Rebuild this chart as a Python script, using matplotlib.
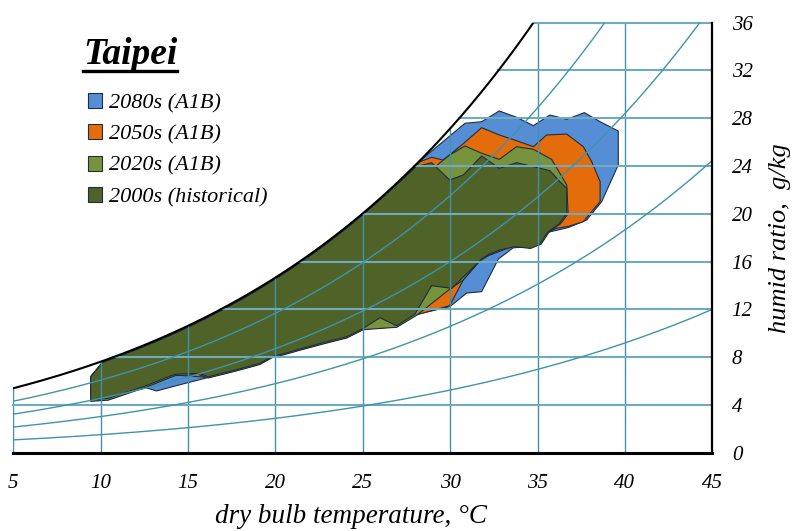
"""Taipei psychrometric chart: climate envelopes per decade."""
import numpy as np
import matplotlib.pyplot as plt
from matplotlib.patches import Polygon, Patch
from matplotlib.lines import Line2D

plt.rcParams['font.family'] = ['Liberation Serif', 'DejaVu Serif']

# --- data (dry bulb degC, humid ratio g/kg) ---
# left edge + upper edge running just under the saturation curve (shared by all decades)
edge_T = [9.43, 9.43, 10.1, 11, 12, 13, 14, 15, 16, 17, 18, 19, 20, 21, 22, 23, 24, 25, 26, 27, 28.05]
edge_w = [4.6, 6.36, 7.55, 8.03, 8.6, 9.2, 9.83, 10.5, 11.22, 11.98, 12.78, 13.63, 14.54, 15.49,
          16.5, 17.57, 18.71, 19.92, 21.19, 22.54, 23.95]

# rest of each outline, clockwise from the end of the shared edge
t2080 = [28.2, 30.85, 31.8, 32.81, 33.8, 34.76, 35.71, 36.67, 37.68, 38.58, 39.62, 39.62, 38.67,
         37.81, 36.76, 35.6, 34.6, 33.6, 32.76, 31.8, 30.95, 29.97, 27.98, 26.94, 25.03, 24.08,
         22.93, 21.4, 19.8, 19.1, 17.7, 16.16, 14.64, 13.2, 12.44, 10.44, 9.43]
w2080 = [24.35, 27.58, 27.71, 28.61, 28.08, 27.38, 28.27, 27.91, 28.47, 27.71, 26.93, 24.09, 21.02,
         19.48, 18.85, 18.45, 17.25, 17.15, 16.22, 13.48, 13.37, 12.22, 11.55, 10.55, 10.35, 9.65,
         9.22, 8.62, 8.0, 7.42, 6.86, 6.3, 5.73, 5.17, 5.5, 4.45, 4.35]

t2050 = [28.27, 28.94, 29.6, 30.66, 31.8, 32.81, 33.8, 34.76, 35.52, 36.67, 37.62, 38.1, 38.58,
         38.58, 38.1, 37.62, 36.76, 36.1, 35.6, 34.6, 33.7, 32.2, 31.7, 30.75, 29.97, 27.98, 26.94,
         25.03, 24.08, 22.93, 21.4, 19.8, 19.1, 17.7, 16.16, 14.25, 12.54, 10.44, 9.43]
w2050 = [24.36, 24.73, 24.5, 25.76, 27.21, 26.6, 26.12, 25.62, 26.6, 26.68, 25.62, 24.36, 22.69,
         21.02, 20.18, 19.34, 18.95, 18.79, 18.5, 17.3, 17.35, 16.5, 16.05, 14.46, 12.31, 11.5, 10.55,
         10.35, 9.65, 9.22, 8.62, 8.0, 7.42, 6.86, 6.3, 6.5, 5.5, 4.45, 4.35]

t2020 = [29.1, 29.97, 30.85, 31.8, 32.81, 33.8, 34.76, 35.8, 36.28, 36.67, 36.75, 36.3, 35.7, 35.2,
         34.6, 33.7, 32.85, 31.8, 30.75, 29.97, 28.08, 26.94, 25.98, 25.03, 24.08, 22.93, 21.4, 20.55,
         19.8, 19.1, 17.7, 16.16, 15.59, 14.25, 12.54, 10.44, 9.43]
w2020 = [23.9, 24.92, 25.68, 25.07, 24.56, 25.62, 25.4, 24.56, 23.39, 22.41, 20.0, 19.15, 18.55, 17.45,
         17.2, 17.35, 17.05, 16.3, 14.46, 13.68, 11.5, 10.5, 10.4, 10.3, 9.6, 9.18, 8.58, 8.22,
         7.95, 7.38, 6.82, 6.26, 6.55, 6.45, 5.45, 4.4, 4.3]

t2000 = [28.94, 29.97, 30.75, 31.8, 32.81, 33.8, 34.76, 35.71, 36.28, 36.67, 36.67, 36.2, 35.6, 35.1,
         34.6, 33.7, 32.85, 32.2, 31.8, 30.09, 28.94, 27.98, 26.94, 25.98, 25.03, 24.08, 22.93, 21.4,
         20.55, 19.8, 19.1, 17.7, 16.16, 15.59, 14.25, 12.54, 10.44, 9.43]
w2000 = [24.28, 22.83, 23.25, 24.84, 23.81, 24.28, 23.95, 23.61, 22.69, 22.14, 20.04, 19.1, 18.5, 17.4,
         17.1, 17.25, 16.97, 16.6, 16.22, 13.76, 13.98, 11.59, 10.63, 11.3, 10.41, 9.71, 9.29, 8.68,
         8.32, 8.04, 7.48, 6.92, 6.36, 6.65, 6.56, 5.58, 4.55, 4.41]

labels = ['2080s (A1B)', '2050s (A1B)', '2020s (A1B)', '2000s (historical)']
colors = ['#558ED5', '#E46C0A', '#77933C', '#4F6228']
outlines = [(t2080, w2080), (t2050, w2050), (t2020, w2020), (t2000, w2000)]

x_ticks = [5, 10, 15, 20, 25, 30, 35, 40, 45]
y_ticks = [0, 4, 8, 12, 16, 20, 24, 28, 32, 36]
rh_levels = [20, 40, 60, 80]

# --- psychrometrics for the chart frame ---
P_ATM = 101.325


def p_sat(t):
    return 0.61094 * np.exp(17.625 * t / (t + 243.04))


def humid_ratio(t, rh):
    pv = rh / 100.0 * p_sat(t)
    return 622.0 * pv / (P_ATM - pv)


fig = plt.figure(figsize=(7.95, 5.31), dpi=100)
ax = fig.add_axes([13.3 / 795, (531 - 452.7) / 531, 699 / 795, 430 / 531])
ax.set_xlim(5, 45)
ax.set_ylim(0, 36)

edge_col = '#1F2D3D'
for (tt, ww), c, z in zip(outlines, colors, [1, 2, 3, 4]):
    pts = list(zip(edge_T + tt, edge_w + ww))
    ax.add_patch(Polygon(pts, closed=True, facecolor=c, edgecolor=edge_col, lw=0.8, zorder=z))

# grid clipped under the saturation curve
grid_col = '#3F93AA'
t_fine = np.linspace(5, 45, 800)
w_sat = humid_ratio(t_fine, 100)
for t in x_ticks[:-1]:
    top = min(humid_ratio(t, 100), 36)
    ax.plot([t, t], [0, top], color=grid_col, lw=1.0, zorder=5)
for w in y_ticks[1:]:
    t0 = max(5, np.interp(w, w_sat, t_fine))
    ax.plot([t0, 45], [w, w], color='#6FAABD', lw=1.5, zorder=5, clip_on=False)

for rh in rh_levels:
    ax.plot(t_fine, humid_ratio(t_fine, rh), color=grid_col, lw=1.0, zorder=5)
ax.plot(t_fine, w_sat, color='black', lw=1.5, zorder=6)

for s in ['left', 'top']:
    ax.spines[s].set_visible(False)
ax.spines['bottom'].set_linewidth(2.2)
ax.spines['right'].set_linewidth(1.6)
ax.spines['bottom'].set_zorder(7)
ax.spines['right'].set_zorder(7)

ax.yaxis.tick_right()
ax.yaxis.set_label_position('right')
ax.set_xticks(x_ticks)
ax.set_yticks(y_ticks)
ax.tick_params(length=0)
ax.tick_params(axis='x', pad=15)
ax.tick_params(axis='y', pad=14)
for lab in ax.get_xticklabels() + ax.get_yticklabels():
    lab.set_fontstyle('italic')
    lab.set_fontsize(15)

ax.set_xlabel('dry bulb temperature, \u00b0C', fontsize=19.5, style='italic')
ax.xaxis.set_label_coords((351 - 13.3) / 699, -(504 - 452.7) / 430)
ax.set_ylabel('humid ratio,  g/kg', fontsize=19, style='italic', labelpad=12)

# title with underline
title = fig.text(83 / 795, 1 - 64 / 531, 'Taipei', fontsize=27, weight='bold', style='italic',
                 ha='left', va='baseline')
fig.canvas.draw()
bb = title.get_window_extent(fig.canvas.get_renderer())
fig.add_artist(Line2D([bb.x0 / 795, bb.x1 / 795], [1 - 71 / 531, 1 - 71 / 531],
                      color='black', lw=2.4, transform=fig.transFigure))

handles = [Patch(facecolor=c, edgecolor=edge_col, lw=0.8) for c in colors]
ax.legend(handles, labels, loc='upper left', bbox_to_anchor=(88 / 795, 1 - 93 / 531),
          bbox_transform=fig.transFigure, frameon=False,
          prop={'size': 16, 'style': 'italic', 'family': ['Liberation Serif']},
          handlelength=0.65, handleheight=0.65, handletextpad=0.3, labelspacing=0.5,
          borderaxespad=0, borderpad=0)

fig.savefig('out.png', dpi=100)
